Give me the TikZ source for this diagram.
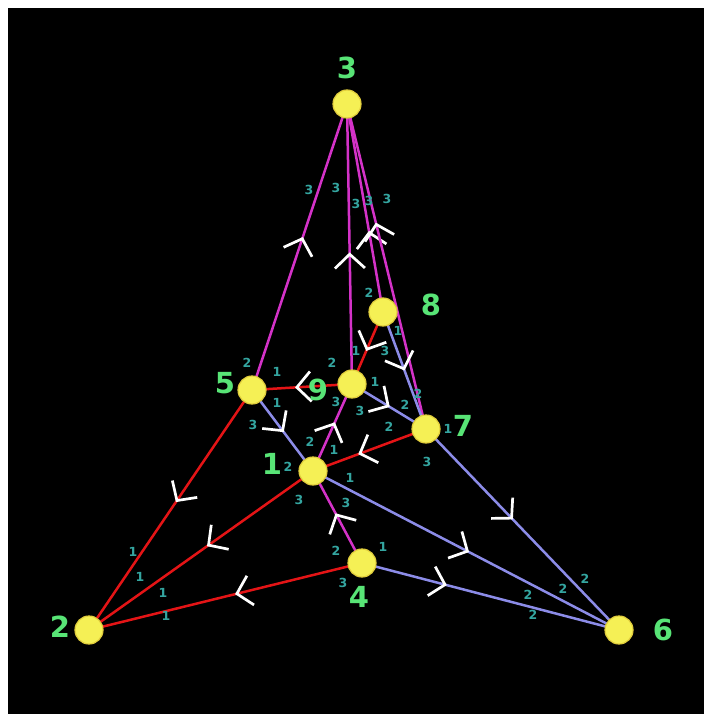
\documentclass[tikz,border=0pt]{standalone}
\usepackage{fontspec}
\setmainfont{Liberation Sans}
\newfontfamily\labfont{DejaVu Sans}[BoldFont={DejaVu Sans Bold}]
\usetikzlibrary{decorations.markings,arrows.meta}
\definecolor{edgered}{RGB}{228,20,22}
\definecolor{edgeblue}{RGB}{140,140,232}
\definecolor{edgemag}{RGB}{212,50,200}
\definecolor{nodeyellow}{RGB}{245,240,85}
\definecolor{nodeedge}{RGB}{225,205,60}
\definecolor{labgreen}{RGB}{88,228,118}
\definecolor{portteal}{RGB}{52,165,160}
\pgfdeclarelayer{edgelayer}
\pgfdeclarelayer{bglayer}
\pgfsetlayers{bglayer,edgelayer,main}
\tikzset{
  chev/.tip={Straight Barb[length=14pt,width=30pt,line width=2.7pt,color=white]},
  vertex/.style={circle,minimum size=28pt,inner sep=0pt,fill=nodeyellow,draw=nodeedge,line width=1.2pt},
  vlabel/.style={text=labgreen,inner sep=0pt,font=\labfont\fontsize{29}{29}\selectfont\bfseries},
  port/.style={text=portteal,inner sep=0pt,font=\labfont\fontsize{12.5}{12.5}\selectfont\bfseries},
  redge/.style={draw=edgered,line width=2.5pt},
  bedge/.style={draw=edgeblue,line width=2.5pt},
  medge/.style={draw=edgemag,line width=2.5pt},
  chevat/.style={postaction={decorate,decoration={markings,mark=at position #1 with {\arrow{chev}}}}}
}
\begin{document}
\begin{tikzpicture}[x=1pt,y=-1pt]
\useasboundingbox (0,0) rectangle (704,714);
\begin{pgfonlayer}{bglayer}
\fill[white] (0,0) rectangle (704,714);
\fill[black] (8,8) rectangle (704,714);
\end{pgfonlayer}
% vertices
\node[vertex] (v1) at (313,471) {};
\node[vertex] (v2) at (89,630) {};
\node[vertex] (v3) at (347,104) {};
\node[vertex] (v4) at (362,563) {};
\node[vertex] (v5) at (252,390) {};
\node[vertex] (v6) at (619,630) {};
\node[vertex] (v7) at (426,429) {};
\node[vertex] (v8) at (383,312) {};
\node[vertex] (v9) at (352,384) {};
% vertex labels
\node[vlabel] (l1) at (272,464) {1};
\node[vlabel] (l2) at (60,627) {2};
\node[vlabel] (l3) at (347,68) {3};
\node[vlabel] (l4) at (359,597) {4};
\node[vlabel] (l5) at (225,383) {5};
\node[vlabel] (l6) at (663,630) {6};
\node[vlabel] (l7) at (463,426) {7};
\node[vlabel] (l8) at (431,305) {8};
\node[vlabel] (l9) at (318,390) {9};
% edges
\begin{pgfonlayer}{edgelayer}
\path[medge,chevat=0.535] (v5.center) -- (v3.center);
\path[medge,chevat=0.47] (v9.center) -- (v3.center);
\path[medge,chevat=0.39] (v8.center) -- (v3.center);
\path[medge,chevat=0.635] (v7.center) -- (v3.center);
\path[medge,chevat=0.56] (v1.center) -- (v9.center);
\path[medge,chevat=0.54] (v4.center) -- (v1.center);
\path[redge,chevat=0.467] (v5.center) -- (v2.center);
\path[redge,chevat=0.473] (v1.center) -- (v2.center);
\path[redge,chevat=0.465] (v4.center) -- (v2.center);
\path[redge,chevat=0.57] (v9.center) -- (v5.center);
\path[redge,chevat=0.54] (v8.center) -- (v9.center);
\path[redge,chevat=0.6] (v7.center) -- (v1.center);
\path[bedge,chevat=0.52] (v5.center) -- (v1.center);
\path[bedge,chevat=0.5] (v8.center) -- (v7.center);
\path[bedge,chevat=0.51] (v9.center) -- (v7.center);
\path[bedge,chevat=0.51] (v1.center) -- (v6.center);
\path[bedge,chevat=0.33] (v4.center) -- (v6.center);
\path[bedge,chevat=0.45] (v7.center) -- (v6.center);
\end{pgfonlayer}
% port labels
\node[port] (p1) at (309,190) {3};
\node[port] (p2) at (336,188) {3};
\node[port] (p3) at (356,204) {3};
\node[port] (p4) at (369,201) {3};
\node[port] (p5) at (387,199) {3};
\node[port] (p6) at (369,293) {2};
\node[port] (p7) at (398,331) {1};
\node[port] (p8) at (385,351) {3};
\node[port] (p9) at (356,351) {1};
\node[port] (p10) at (332,363) {2};
\node[port] (p11) at (375,382) {1};
\node[port] (p12) at (336,402) {3};
\node[port] (p13) at (360,411) {3};
\node[port] (p14) at (418,394) {2};
\node[port] (p15) at (405,405) {2};
\node[port] (p16) at (389,427) {2};
\node[port] (p17) at (247,363) {2};
\node[port] (p18) at (277,372) {1};
\node[port] (p19) at (277,403) {1};
\node[port] (p20) at (253,425) {3};
\node[port] (p21) at (310,442) {2};
\node[port] (p22) at (334,450) {1};
\node[port] (p23) at (288,467) {2};
\node[port] (p24) at (350,478) {1};
\node[port] (p25) at (299,500) {3};
\node[port] (p26) at (346,503) {3};
\node[port] (p27) at (448,429) {1};
\node[port] (p28) at (427,462) {3};
\node[port] (p29) at (336,551) {2};
\node[port] (p30) at (383,547) {1};
\node[port] (p31) at (343,583) {3};
\node[port] (p32) at (133,552) {1};
\node[port] (p33) at (140,577) {1};
\node[port] (p34) at (163,593) {1};
\node[port] (p35) at (166,616) {1};
\node[port] (p36) at (585,579) {2};
\node[port] (p37) at (563,589) {2};
\node[port] (p38) at (528,595) {2};
\node[port] (p39) at (533,615) {2};
\end{tikzpicture}
\end{document}
